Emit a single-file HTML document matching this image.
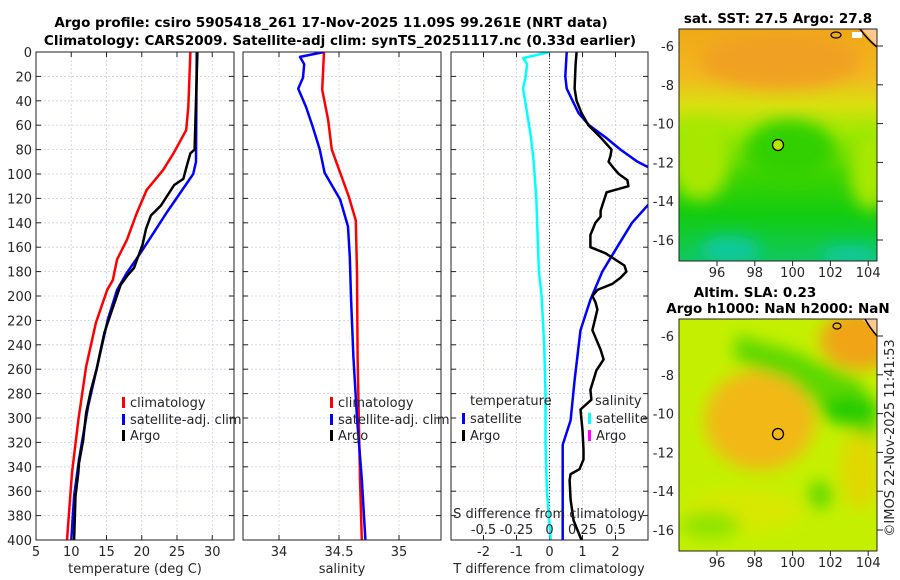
<!DOCTYPE html>
<html><head><meta charset="utf-8">
<style>
html,body{margin:0;padding:0;background:#fff;}
svg{display:block;font-family:"DejaVu Sans","Liberation Sans",sans-serif;}
.tl{font-size:13px;fill:#262626;}
.tt{font-size:13.5px;font-weight:bold;fill:#000;}
</style></head>
<body>
<svg id="fig" width="900" height="580" viewBox="0 0 900 580">
<defs>
<clipPath id="c1"><rect x="36" y="52" width="198" height="488"/></clipPath>
<clipPath id="c2"><rect x="243" y="52" width="198" height="488"/></clipPath>
<clipPath id="c3"><rect x="451" y="52" width="197" height="488"/></clipPath>
<clipPath id="m1"><rect x="679" y="29" width="198" height="232"/></clipPath>
<clipPath id="m2"><rect x="679" y="319" width="198" height="232"/></clipPath>
<filter id="bl" x="-50%" y="-50%" width="200%" height="200%"><feGaussianBlur stdDeviation="8"/></filter>
<linearGradient id="sstg" x1="0" y1="0" x2="0" y2="1">
<stop offset="0" stop-color="#f0a818"/><stop offset="0.2" stop-color="#f2b820"/>
<stop offset="0.33" stop-color="#d8e010"/><stop offset="0.45" stop-color="#9be800"/>
<stop offset="0.62" stop-color="#40d400"/><stop offset="0.8" stop-color="#12cc10"/>
<stop offset="1" stop-color="#10c860"/></linearGradient>
</defs>
<text class="tt" x="331" y="27" text-anchor="middle">Argo profile: csiro 5905418_261 17-Nov-2025 11.09S 99.261E (NRT data)</text>
<text class="tt" x="340" y="45" text-anchor="middle">Climatology: CARS2009. Satellite-adj clim: synTS_20251117.nc (0.33d earlier)</text>
<g id="p1"></g>
<g id="p2"></g>
<g id="p3"></g>

<g>
<text class="tt" x="778" y="23" text-anchor="middle">sat. SST: 27.5 Argo: 27.8</text>
<g clip-path="url(#m1)">
<rect x="679" y="29" width="198" height="232" fill="url(#sstg)"/>
<g filter="url(#bl)">
<ellipse cx="780" cy="60" rx="80" ry="28" fill="#f0a020"/>
<ellipse cx="700" cy="160" rx="30" ry="40" fill="#a8e800"/>
<ellipse cx="870" cy="170" rx="20" ry="40" fill="#a8e800"/>
<ellipse cx="790" cy="150" rx="45" ry="30" fill="#30d000"/>
<ellipse cx="730" cy="250" rx="30" ry="14" fill="#10c8a0"/>
<ellipse cx="850" cy="255" rx="30" ry="10" fill="#10c8a0"/>
</g>
<rect x="852" y="32" width="10" height="6" fill="#fff"/>
<path d="M862 29 L877 29 L877 46 Z" fill="#ffc890"/>
<path d="M860 29 Q868 40 877 47" fill="none" stroke="#000" stroke-width="1.5"/>
<ellipse cx="836" cy="35" rx="5" ry="3" fill="none" stroke="#000" stroke-width="1.2"/>
</g>
<circle cx="778" cy="145" r="5.5" fill="#b8e800" stroke="#000" stroke-width="1.3"/>
<rect x="679" y="29" width="198" height="232" fill="none" stroke="#222" stroke-width="1"/>
</g>
<g>
<text class="tt" x="755" y="297" text-anchor="middle">Altim. SLA: 0.23</text>
<text class="tt" x="778" y="313" text-anchor="middle">Argo h1000: NaN h2000: NaN</text>
<g clip-path="url(#m2)">
<rect x="679" y="319" width="198" height="232" fill="#c4f000"/>
<g filter="url(#bl)">
<ellipse cx="760" cy="420" rx="55" ry="50" fill="#f2b818"/>
<ellipse cx="745" cy="510" rx="60" ry="20" fill="#d8e800"/>
<ellipse cx="860" cy="340" rx="40" ry="30" fill="#f0a418"/>
<ellipse cx="860" cy="470" rx="20" ry="40" fill="#e0d800"/>
<path d="M735 335 L790 350 L860 380 L877 410 L877 440 L840 425 L790 380 L735 360 Z" fill="#5cd800"/>
<ellipse cx="850" cy="410" rx="30" ry="14" fill="#20cc00"/>
<ellipse cx="820" cy="495" rx="12" ry="14" fill="#60d800"/>
<ellipse cx="710" cy="525" rx="30" ry="14" fill="#90e400"/>
</g>
<path d="M862 319 L877 319 L877 335 Z" fill="#ffc890"/>
<path d="M865 319 Q870 328 877 336" fill="none" stroke="#000" stroke-width="1.5"/>
<ellipse cx="837" cy="326" rx="4" ry="3" fill="none" stroke="#000" stroke-width="1.2"/>
</g>
<circle cx="778" cy="434" r="5.5" fill="none" stroke="#000" stroke-width="1.3"/>
<rect x="679" y="319" width="198" height="232" fill="none" stroke="#222" stroke-width="1"/>
</g>
<g id="maxes"></g>
<text class="tl" transform="translate(894,438) rotate(-90)" text-anchor="middle">©IMOS 22-Nov-2025 11:41:53</text>
</svg>
<script>
const depthTicks=[0,20,40,60,80,100,120,140,160,180,200,220,240,260,280,300,320,340,360,380,400];
const tempTicks=[5,10,15,20,25,30];
const salTicks=[34,34.5,35];
const tdiffTicks=[-2,-1,0,1,2];
const sdiffTicks=[-0.5,-0.25,0,0.25,0.5];
const sdiffTickLabels=["-0.5","-0.25","0","0.25","0.5"];
const latTicks=[-6,-8,-10,-12,-14,-16];
const lonTicks=[96,98,100,102,104];

const tClimD=[0,45,64,83,97,113,132,154,170,187,195,222,258,302,345,400];
const tClimV=[26.9,26.6,26.3,24.5,23,20.7,19.3,17.9,16.5,15.9,15.1,13.5,12.1,11,10.1,9.4];
const tSatD=[0,90,100,116,132,149,165,181,187,195,219,255,290,334,364,400];
const tSatV=[27.8,27.7,27.3,25.4,23.5,21.6,19.8,17.9,17.3,16.5,15.2,13.8,12.4,11.1,10.4,10.0];
const tArgoD=[0,80,83,93,104,109,118,126,134,145,158,166,177,183,191,213,230,249,260,277,296,318,337,345,364,400];
const tArgoV=[27.9,27.5,26.9,26.4,25.9,24.6,23.6,22.7,21.3,20.6,20.1,19.6,18.9,18.0,17.0,15.7,14.7,14.0,13.6,12.8,12.1,11.7,11.1,11.0,10.6,10.4];

const sClimD=[0,31,56,80,99,118,138,181,250,300,350,400];
const sClimV=[34.375,34.36,34.41,34.44,34.51,34.58,34.64,34.65,34.655,34.665,34.675,34.69];
const sSatD=[0,4,10,21,30,45,61,80,99,121,143,168,201,250,300,350,400];
const sSatV=[34.375,34.175,34.21,34.2,34.16,34.225,34.28,34.34,34.38,34.51,34.575,34.59,34.6,34.62,34.65,34.69,34.72];

const dSatSD=[0,5,10,20,30,50,70,90,120,150,180,200,240,280,320,360,400];
const dSatSV=[0,-0.2,-0.17,-0.18,-0.2,-0.17,-0.14,-0.12,-0.1,-0.09,-0.08,-0.06,-0.04,-0.03,-0.03,-0.02,0.01];
const dSatTD=[0,20,30,40,50,60,70,80,90,100,110,125,140,160,180,203,228,269,302,322,400];
const dSatTV=[0.52,0.48,0.52,0.7,0.88,1.2,1.7,2.15,2.67,3.4,3.6,3.0,2.5,2.05,1.6,1.24,0.94,0.76,0.64,0.4,0.4];
const dArgoTD=[0,10,30,40,50,60,70,80,85,90,95,100,105,110,115,120,130,135,140,150,160,165,175,180,185,190,195,200,205,211,228,244,252,261,277,285,293,310,326,334,342,346,351,367,384,400];
const dArgoTV=[0.82,0.79,0.76,0.82,0.97,1.18,1.55,1.88,1.85,1.79,1.94,2.1,2.36,2.39,1.73,1.67,1.55,1.55,1.39,1.24,1.24,1.7,2.27,2.33,2.15,1.91,1.45,1.3,1.39,1.45,1.3,1.55,1.64,1.42,1.24,1.27,0.94,1.0,1.03,1.03,0.91,0.64,0.61,0.64,0.73,0.97];

const NS="http://www.w3.org/2000/svg";
const Y0=52,Y1=540;
function yD(d){return Y0+d*(Y1-Y0)/400;}
function xT(t){return 36+(t-5)*7.05;}
function xS(s){return 243+(s-33.7)*120;}
function xTD(t){return 549.5+t*33;}
function xSD(s){return xTD(s*4);}
function mk(par,tag,attrs){const e=document.createElementNS(NS,tag);for(const k in attrs)e.setAttribute(k,attrs[k]);par.appendChild(e);return e;}
function txt(par,x,y,s,anchor,cls){const e=mk(par,'text',{x:x,y:y,'text-anchor':anchor||'middle',class:cls||'tl'});e.textContent=s;return e;}

function frame(g,x0,x1,xticks,xf,labels,depthLabels){
  mk(g,'rect',{x:x0,y:Y0,width:x1-x0,height:Y1-Y0,fill:'#fff'});
  depthTicks.forEach(d=>{const y=yD(d);
    if(d>0&&d<400){const l=mk(g,'line',{x1:x0,x2:x1,y1:y,y2:y,stroke:'#c9cfe6','stroke-width':0.8,'stroke-dasharray':'2,2'});
      }
    mk(g,'line',{x1:x0,x2:x0+5,y1:y,y2:y,stroke:'#222'});
    mk(g,'line',{x1:x1-5,x2:x1,y1:y,y2:y,stroke:'#222'});
    if(depthLabels){const t=txt(g,x0-4,y+5,String(d),'end');
      }
  });
  xticks.forEach((v,i)=>{const x=xf(v);
    const l=mk(g,'line',{x1:x,x2:x,y1:Y0,y2:Y1,stroke:'#c9cfe6','stroke-width':0.8,'stroke-dasharray':'2,2'});
    
    mk(g,'line',{x1:x,x2:x,y1:Y1-5,y2:Y1,stroke:'#222'});
    mk(g,'line',{x1:x,x2:x,y1:Y0,y2:Y0+5,stroke:'#222'});
    const t=txt(g,x,556,labels?labels[i]:String(v));
    
  });
}
function border(g,x0,x1){mk(g,'rect',{x:x0,y:Y0,width:x1-x0,height:Y1-Y0,fill:'none',stroke:'#222','stroke-width':1});}
function line(g,D,V,xf,color,clip,name){
  const p=D.map((d,i)=>xf(V[i]).toFixed(1)+','+yD(d).toFixed(1)).join(' ');
  const e=mk(g,'polyline',{points:p,fill:'none',stroke:color,'stroke-width':2.5,'stroke-linejoin':'round','clip-path':'url(#'+clip+')'});
  
  
}
function legend(g,x,y,color,label,name){
  const r=mk(g,'rect',{x:x,y:y-9,width:3,height:11,fill:color});
  
  const t=txt(g,x+8,y+1,label,'start');
  
}

const p1=document.getElementById('p1');
frame(p1,36,234,tempTicks,xT,null,true);
line(p1,tClimD,tClimV,xT,'#ff0000','c1','climatology-temperature-line');
line(p1,tSatD,tSatV,xT,'#0000ff','c1','satellite-temperature-line');
line(p1,tArgoD,tArgoV,xT,'#000000','c1','argo-temperature-line');
border(p1,36,234);
legend(p1,122,406,'#ff0000','climatology','legend-climatology');
legend(p1,122,423,'#0000ff','satellite-adj. clim','legend-satellite-adj');
legend(p1,122,439,'#000000','Argo','legend-argo');
let t=txt(p1,135,573,'temperature (deg C)');

const p2=document.getElementById('p2');
frame(p2,243,441,salTicks,xS,null,false);
line(p2,sClimD,sClimV,xS,'#ff0000','c2','climatology-salinity-line');
line(p2,sSatD,sSatV,xS,'#0000ff','c2','satellite-salinity-line');
border(p2,243,441);
legend(p2,330,406,'#ff0000','climatology','legend-climatology');
legend(p2,330,423,'#0000ff','satellite-adj. clim','legend-satellite-adj');
legend(p2,330,439,'#000000','Argo','legend-argo');
t=txt(p2,342,573,'salinity');

const p3=document.getElementById('p3');
frame(p3,451,648,tdiffTicks,xTD,null,false);
const zl=mk(p3,'line',{x1:xTD(0),x2:xTD(0),y1:Y0,y2:Y1,stroke:'#333','stroke-width':1,'stroke-dasharray':'1,2'});

line(p3,dSatSD,dSatSV,xSD,'#00ffff','c3','satellite-salinity-diff-line');
line(p3,dSatTD,dSatTV,xTD,'#0000ff','c3','satellite-temperature-diff-line');
line(p3,dArgoTD,dArgoTV,xTD,'#000000','c3','argo-temperature-diff-line');
border(p3,451,648);
t=txt(p3,470,405,'temperature','start');
legend(p3,462,422,'#0000ff','satellite','legend-temp-satellite');
legend(p3,462,439,'#000000','Argo','legend-temp-argo');
t=txt(p3,595,405,'salinity','start');
legend(p3,588,422,'#00ffff','satellite','legend-sal-satellite');
legend(p3,588,439,'#ff00ff','Argo','legend-sal-argo');
t=txt(p3,549,518,'S difference from climatology');
sdiffTicks.forEach((v,i)=>{const e=txt(p3,xSD(v),534,sdiffTickLabels[i]);
  });
t=txt(p3,549,573,'T difference from climatology');

const ma=document.getElementById('maxes');
function lonX(l){return 717+(l-96)*18.9;}
function latY(la,top){return top+(-6-la)*19.4;}
[[29,261,46],[319,551,336]].forEach(([top,bot,l6])=>{
  latTicks.forEach(la=>{const y=latY(la,l6);
    mk(ma,'line',{x1:877,x2:883,y1:y,y2:y,stroke:'#222'});
    const e=txt(ma,674,y+5,String(la),'end');
    });
  lonTicks.forEach(lo=>{const x=lonX(lo);
    mk(ma,'line',{x1:x,x2:x,y1:bot,y2:bot+5,stroke:'#222'});
    const e=txt(ma,x,bot+16,String(lo));
    });
});
</script>
</body></html>
